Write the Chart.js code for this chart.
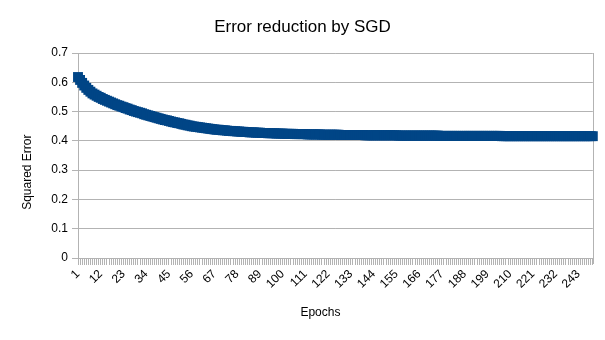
<!DOCTYPE html>
<html>
<head>
<meta charset="utf-8">
<script src="https://cdn.jsdelivr.net/npm/chart.js@4/dist/chart.umd.min.js"></script>
<style>
  html, body { margin: 0; padding: 0; background: #fff; }
  canvas { display: block; }
</style>
</head>
<body>
<canvas id="chart" width="605" height="340"></canvas>
<script>
// squared error per epoch
const errors = [
  0.618, 0.608, 0.598, 0.589, 0.581, 0.574, 0.568, 0.562, 0.558, 0.554,
  0.550, 0.547, 0.543, 0.540, 0.537, 0.534, 0.531, 0.528, 0.525, 0.522,
  0.520, 0.517, 0.515, 0.512, 0.510, 0.507, 0.505, 0.502, 0.500, 0.498,
  0.496, 0.494, 0.491, 0.489, 0.487, 0.485, 0.483, 0.481, 0.479, 0.477,
  0.475, 0.473, 0.471, 0.470, 0.468, 0.466, 0.464, 0.463, 0.461, 0.460,
  0.458, 0.456, 0.455, 0.453, 0.452, 0.450, 0.449, 0.448, 0.447, 0.446,
  0.445, 0.444, 0.443, 0.442, 0.441, 0.440, 0.439, 0.438, 0.438, 0.437,
  0.436, 0.436, 0.435, 0.434, 0.434, 0.433, 0.433, 0.432, 0.432, 0.431,
  0.431, 0.430, 0.430, 0.429, 0.429, 0.429, 0.428, 0.428, 0.428, 0.427,
  0.427, 0.427, 0.426, 0.426, 0.426, 0.426, 0.425, 0.425, 0.425, 0.425,
  0.424, 0.424, 0.424, 0.424, 0.424, 0.423, 0.423, 0.423, 0.423, 0.423,
  0.423, 0.422, 0.422, 0.422, 0.422, 0.422, 0.422, 0.422, 0.421, 0.421,
  0.421, 0.421, 0.421, 0.421, 0.421, 0.421, 0.421, 0.420, 0.420, 0.420,
  0.420, 0.420, 0.420, 0.420, 0.420, 0.420, 0.420, 0.420, 0.420, 0.419,
  0.419, 0.419, 0.419, 0.419, 0.419, 0.419, 0.419, 0.419, 0.419, 0.419,
  0.419, 0.419, 0.419, 0.419, 0.419, 0.418, 0.418, 0.418, 0.418, 0.418,
  0.418, 0.418, 0.418, 0.418, 0.418, 0.418, 0.418, 0.418, 0.418, 0.418,
  0.418, 0.418, 0.418, 0.418, 0.418, 0.417, 0.417, 0.417, 0.417, 0.417,
  0.417, 0.417, 0.417, 0.417, 0.417, 0.417, 0.417, 0.417, 0.417, 0.417,
  0.417, 0.417, 0.417, 0.417, 0.417, 0.417, 0.417, 0.417, 0.417, 0.417,
  0.417, 0.417, 0.417, 0.417, 0.417, 0.416, 0.416, 0.416, 0.416, 0.416,
  0.416, 0.416, 0.416, 0.416, 0.416, 0.416, 0.416, 0.416, 0.416, 0.416,
  0.416, 0.416, 0.416, 0.416, 0.416, 0.416, 0.416, 0.416, 0.416, 0.416,
  0.416, 0.416, 0.416, 0.416, 0.416, 0.416, 0.416, 0.416, 0.416, 0.416,
  0.416, 0.416, 0.416, 0.416, 0.416, 0.416, 0.416, 0.416, 0.416, 0.416
];
const epochs = errors.map((_, i) => String(i + 1));
const labelEvery = 11;
const yTicks = { min: 0, max: 0.7, step: 0.1 };

const gridGrey = "#b3b3b3";
const seriesBlue = "#004586";
const font = "'Liberation Sans', Arial, sans-serif";

// plot wall edge on the right side
const rightEdge = {
  id: "rightEdge",
  beforeDatasetsDraw(chart) {
    const { ctx, chartArea } = chart;
    ctx.save();
    ctx.strokeStyle = gridGrey;
    ctx.lineWidth = 1;
    ctx.beginPath();
    ctx.moveTo(Math.round(chartArea.right) + 0.5, chartArea.top);
    ctx.lineTo(Math.round(chartArea.right) + 0.5, chartArea.bottom + 6);
    ctx.stroke();
    ctx.restore();
  }
};

new Chart(document.getElementById("chart").getContext("2d"), {
  type: "line",
  data: {
    labels: epochs,
    datasets: [{
      label: "Squared Error",
      data: errors,
      borderColor: seriesBlue,
      backgroundColor: seriesBlue,
      borderWidth: 2,
      pointStyle: "rect",
      pointRadius: 7,
      pointHoverRadius: 7,
      pointBorderWidth: 0,
      pointBackgroundColor: seriesBlue,
      tension: 0,
      clip: false
    }]
  },
  options: {
    responsive: false,
    maintainAspectRatio: false,
    animation: false,
    devicePixelRatio: 1,
    layout: { padding: { left: 6, right: 6, top: 0, bottom: 0 } },
    plugins: {
      legend: { display: false },
      tooltip: { enabled: false },
      title: {
        display: true,
        text: "Error reduction by SGD",
        color: "#000",
        font: { family: font, size: 17, weight: "normal" },
        padding: { top: 17, bottom: 15.6 }
      }
    },
    scales: {
      x: {
        type: "category",
        offset: false,
        afterFit(scale) { scale.height = 82; },
        grid: {
          offset: false,
          drawOnChartArea: false,
          drawTicks: true,
          tickLength: 7,
          color: gridGrey
        },
        border: { color: gridGrey },
        ticks: {
          autoSkip: false,
          maxRotation: 45,
          minRotation: 45,
          padding: 2,
          color: "#000",
          font: { family: font, size: 12 },
          callback(value, index) {
            return index % labelEvery === 0 ? this.getLabelForValue(value) : "";
          }
        },
        title: {
          display: true,
          // trailing spaces nudge the centred title left, as in the original
          text: "Epochs         ",
          color: "#000",
          font: { family: font, size: 12 },
          padding: { top: 0, bottom: 19.8 }
        }
      },
      y: {
        min: yTicks.min,
        max: yTicks.max,
        afterFit(scale) { scale.width = 72; },
        grid: { color: gridGrey, tickLength: 6 },
        border: { color: gridGrey },
        ticks: {
          stepSize: yTicks.step,
          padding: 4,
          color: "#000",
          font: { family: font, size: 12 }
        },
        title: {
          display: true,
          // trailing spaces push the rotated title down toward the axis middle
          text: "Squared Error          ",
          color: "#000",
          font: { family: font, size: 12 },
          padding: { top: 14.8, bottom: 0 }
        }
      }
    }
  },
  plugins: [rightEdge]
});
</script>
</body>
</html>
